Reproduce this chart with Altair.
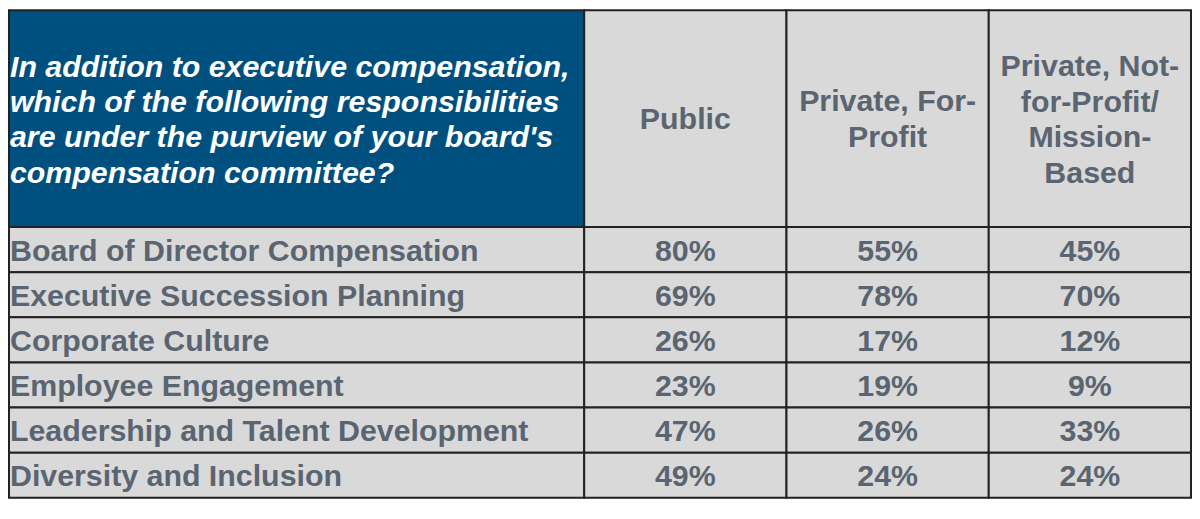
import altair as alt
import pandas as pd

# ---- data ----
question_lines = ["In addition to executive compensation,",
                  "which of the following responsibilities",
                  "are under the purview of your board's",
                  "compensation committee?"]
group_headers = [["Public"],
                 ["Private, For-", "Profit"],
                 ["Private, Not-", "for-Profit/", "Mission-", "Based"]]
categories = ["Board of Director Compensation",
              "Executive Succession Planning",
              "Corporate Culture",
              "Employee Engagement",
              "Leadership and Talent Development",
              "Diversity and Inclusion"]
public = [80, 69, 26, 23, 47, 49]
private_fp = [55, 78, 17, 19, 26, 24]
private_nfp = [45, 70, 12, 9, 33, 24]

# ---- layout (table geometry) ----
col_widths = [583, 205, 205, 205]
header_h = 222
row_h = 46.2
col_edges = [0]
for w in col_widths:
    col_edges.append(col_edges[-1] + w)
row_edges = [0, header_h] + [header_h + row_h * (i + 1) for i in range(len(categories))]
TOTAL_W = col_edges[-1]
TOTAL_H = row_edges[-1]
LH_Q = 35.5
LH_H = 36

BLUE = "#00507F"
GRAY = "#D9D9D9"
TEXT = "#5A6571"
FONT = "Liberation Sans"
FS = 30.5

# cell rectangles
rects = []
for ri in range(len(row_edges) - 1):
    for ci in range(len(col_widths)):
        kind = "head" if (ri == 0 and ci == 0) else "cell"
        rects.append(dict(x0=col_edges[ci], x1=col_edges[ci + 1],
                          y0=row_edges[ri], y1=row_edges[ri + 1], kind=kind))
rect_df = pd.DataFrame(rects)

hc = header_h / 2 + 1
# header question (first line position so that the block is centered)
q_df = pd.DataFrame([dict(x=1, y=hc - (len(question_lines) - 1) / 2 * LH_Q, t=question_lines)])

# column headers
gh_df = pd.DataFrame([dict(x=(col_edges[i + 1] + col_edges[i + 2]) / 2,
                           y=hc - (len(lines) - 1) / 2 * LH_H, t=lines)
                      for i, lines in enumerate(group_headers)])

# row labels
rl_df = pd.DataFrame([dict(x=1, y=(row_edges[i + 1] + row_edges[i + 2]) / 2 + 2, t=c)
                      for i, c in enumerate(categories)])

# values
vals = []
for gi, series in enumerate([public, private_fp, private_nfp]):
    for i, v in enumerate(series):
        vals.append(dict(x=(col_edges[gi + 1] + col_edges[gi + 2]) / 2,
                         y=(row_edges[i + 1] + row_edges[i + 2]) / 2 + 2,
                         t=f"{v}%"))
val_df = pd.DataFrame(vals)

xs = alt.Scale(domain=[-1, TOTAL_W + 1], nice=False, zero=False)
ys = alt.Scale(domain=[-1, TOTAL_H + 1], nice=False, zero=False, reverse=True)

cells = alt.Chart(rect_df).mark_rect(stroke="#222222", strokeWidth=2).encode(
    x=alt.X("x0:Q", scale=xs, axis=None),
    x2="x1:Q",
    y=alt.Y("y0:Q", scale=ys, axis=None),
    y2="y1:Q",
    fill=alt.Fill("kind:N", scale=alt.Scale(domain=["head", "cell"], range=[BLUE, GRAY]),
                  legend=None),
)

question = alt.Chart(q_df).mark_text(
    align="left", baseline="middle", font=FONT, fontSize=FS, fontWeight="bold",
    fontStyle="italic", color="white", lineHeight=LH_Q
).encode(x=alt.X("x:Q", scale=xs, axis=None), y=alt.Y("y:Q", scale=ys, axis=None), text="t")

heads = alt.Chart(gh_df).mark_text(
    align="center", baseline="middle", font=FONT, fontSize=FS, fontWeight="bold",
    color=TEXT, lineHeight=LH_H
).encode(x=alt.X("x:Q", scale=xs, axis=None), y=alt.Y("y:Q", scale=ys, axis=None), text="t")

labels = alt.Chart(rl_df).mark_text(
    align="left", baseline="middle", font=FONT, fontSize=FS, fontWeight="bold", color=TEXT
).encode(x=alt.X("x:Q", scale=xs, axis=None), y=alt.Y("y:Q", scale=ys, axis=None), text="t:N")

values = alt.Chart(val_df).mark_text(
    align="center", baseline="middle", font=FONT, fontSize=FS, fontWeight="bold", color=TEXT
).encode(x=alt.X("x:Q", scale=xs, axis=None), y=alt.Y("y:Q", scale=ys, axis=None), text="t:N")

chart = alt.layer(cells, question, heads, labels, values).properties(
    width=1190, height=492, padding=0, autosize="none"
).configure_view(stroke=None)

chart.save("out.html", embed_options={"renderer": "svg", "actions": False})
